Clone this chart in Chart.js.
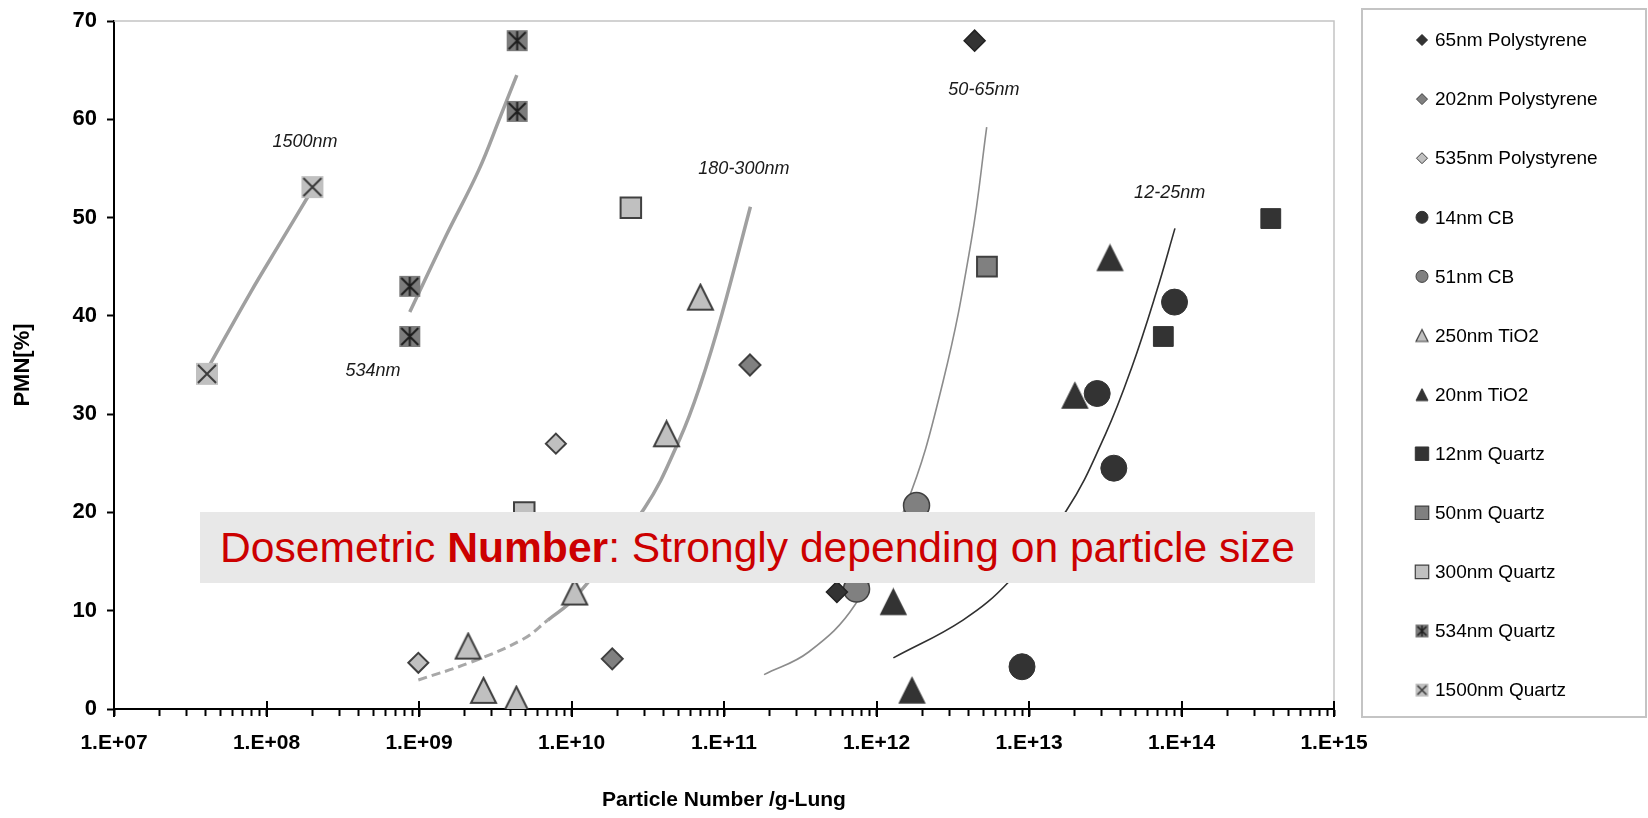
<!DOCTYPE html>
<html>
<head>
<meta charset="utf-8">
<title>PMN vs particle number</title>
<script src="https://cdn.jsdelivr.net/npm/chart.js@4.4.1/dist/chart.umd.min.js"></script>
<style>
  body { margin: 0; background: #fff; }
  #wrap { position: relative; width: 1648px; height: 818px; }
  #note {
    position: absolute; left: 200px; top: 512px; width: 1115px; height: 71px;
    box-sizing: border-box; padding-left: 20px;
    background: #e8e8e8; color: #cc0000;
    font: 42.6px "Liberation Sans", Arial, sans-serif; line-height: 71px;
    white-space: nowrap;
  }
</style>
</head>
<body>
<div id="wrap">
  <canvas id="pmn" width="1648" height="818"></canvas>
  <div id="note">Dosemetric <b>Number</b>: Strongly depending on particle size</div>
</div>
<script>
// ---- data: [particles per g lung, PMN %] ----
const seriesNames = ['65nm Polystyrene', '202nm Polystyrene', '535nm Polystyrene', '14nm CB', '51nm CB',
  '250nm TiO2', '20nm TiO2', '12nm Quartz', '50nm Quartz', '300nm Quartz', '534nm Quartz', '1500nm Quartz'];

const ps65 = [[4.4e12, 68], [5.5e11, 11.9]];
const ps202 = [[1.48e11, 35], [1.85e10, 5.1]];
const ps535 = [[9.9e8, 4.7], [7.9e9, 27]];
const cb14 = [[9.0e13, 41.4], [3.6e13, 24.5], [2.8e13, 32.1], [9.0e12, 4.3]];
const cb51 = [[1.83e12, 20.7], [7.4e11, 12.2]];
const tio250 = [[7.0e10, 41.9], [4.2e10, 28], [1.05e10, 11.9], [2.1e9, 6.4], [2.65e9, 1.9], [4.35e9, 1]];
const tio20 = [[3.4e13, 45.9], [2.0e13, 31.9], [1.29e12, 10.9], [1.71e12, 1.9]];
const qz12 = [[3.85e14, 49.9], [7.6e13, 37.9]];
const qz50 = [[5.3e12, 45]];
const qz300 = [[2.45e10, 51], [4.9e9, 20]];
const qz534 = [[8.7e8, 43], [8.7e8, 37.9], [4.4e9, 68], [4.4e9, 60.8]];
const qz1500 = [[4.07e7, 34.1], [2.0e8, 53.1]];

// trend curves per size class
const fit1500 = [[4.07e7, 34.5], [7.8e7, 42.3], [1.26e8, 47.7], [1.95e8, 52.6]];
const fit534 = [[8.7e8, 40.4], [1.51e9, 48.2], [2.46e9, 54.8], [3.4e9, 60.2], [4.38e9, 64.5]];
const fit180Low = [[9.9e8, 2.95], [2.14e9, 4.7], [4.8e9, 7.1], [7.0e9, 9.05]];
const fit180 = [[7.0e9, 9.05], [1.05e10, 11.3], [3.0e10, 20.4], [5.1e10, 27.4], [7.0e10, 33.0], [9.7e10, 40.2], [1.49e11, 51.1]];
const fit50 = [[1.83e11, 3.5], [3.59e11, 5.8], [7.23e11, 10.6], [1.55e12, 20.6], [2.73e12, 33.3], [4.19e12, 47.7], [5.28e12, 59.2]];
const fit12 = [[1.29e12, 5.2], [3.69e12, 9.05], [7.43e12, 13], [1.76e13, 20.2], [3.18e13, 28], [4.73e13, 34.8], [6.9e13, 42.6], [9.06e13, 48.9]];

const fitLabels = ['1500nm', '534nm', '180-300nm', '50-65nm', '12-25nm'];
const fitLabelX = [1.79e8, 5.0e8, 1.35e11, 5.06e12, 8.36e13];
const fitLabelY = [57.7, 34.4, 54.9, 63.0, 52.5];

const xDecades = [1e7, 1e8, 1e9, 1e10, 1e11, 1e12, 1e13, 1e14, 1e15];
const xTickLabels = ['1.E+07', '1.E+08', '1.E+09', '1.E+10', '1.E+11', '1.E+12', '1.E+13', '1.E+14', '1.E+15'];
const yTicks = [0, 10, 20, 30, 40, 50, 60, 70];

// ---- markers ----
function makeMarker(kind, size, fill, line, lw) {
  const pad = 2;
  const c = document.createElement('canvas');
  c.width = c.height = Math.ceil(size + pad * 2);
  const g = c.getContext('2d');
  const s = size, o = pad;
  g.lineWidth = lw;
  g.strokeStyle = line;
  g.fillStyle = fill;
  if (kind === 'triangle') {
    g.beginPath();
    g.moveTo(o + s / 2, o);
    g.lineTo(o + s, o + s);
    g.lineTo(o, o + s);
    g.closePath();
    g.fill();
    g.stroke();
  } else {
    g.fillRect(o, o, s, s);
    g.beginPath();
    g.moveTo(o + 2, o + 2); g.lineTo(o + s - 2, o + s - 2);
    g.moveTo(o + s - 2, o + 2); g.lineTo(o + 2, o + s - 2);
    if (kind === 'star') { g.moveTo(o + s / 2, o + 1); g.lineTo(o + s / 2, o + s - 1); }
    g.stroke();
  }
  return c;
}

const DARK = '#333333', MID = '#808080', LIGHT = '#c0c0c0', EDGE = '#404040';

const seriesData = [ps65, ps202, ps535, cb14, cb51, tio250, tio20, qz12, qz50, qz300, qz534, qz1500];
const plotMarks = [
  { style: 'rectRot', r: 10.5, fill: DARK, line: '#222', bw: 1.5 },
  { style: 'rectRot', r: 10.5, fill: MID, line: EDGE, bw: 2 },
  { style: 'rectRot', r: 10, fill: LIGHT, line: EDGE, bw: 2 },
  { style: 'circle', r: 13, fill: DARK, line: DARK, bw: 1 },
  { style: 'circle', r: 13, fill: MID, line: EDGE, bw: 1.5 },
  { style: makeMarker('triangle', 25, LIGHT, EDGE, 2), r: 13 },
  { style: makeMarker('triangle', 25, DARK, DARK, 1.5), r: 13 },
  { style: 'rect', r: 14, fill: DARK, line: DARK, bw: 1 },
  { style: 'rect', r: 14, fill: MID, line: EDGE, bw: 2 },
  { style: 'rect', r: 14.5, fill: LIGHT, line: EDGE, bw: 2 },
  { style: makeMarker('star', 21, '#7c7c7c', '#1e1e1e', 2), r: 11 },
  { style: makeMarker('cross', 22, LIGHT, '#3a3a3a', 2), r: 11 }
];
const legendMarks = [
  { style: 'rectRot', r: 5.5, fill: DARK, line: '#222', bw: 1 },
  { style: 'rectRot', r: 5.5, fill: MID, line: EDGE, bw: 1 },
  { style: 'rectRot', r: 5.5, fill: LIGHT, line: EDGE, bw: 1 },
  { style: 'circle', r: 6, fill: DARK, line: DARK, bw: 1 },
  { style: 'circle', r: 6, fill: MID, line: EDGE, bw: 1 },
  { style: makeMarker('triangle', 12, LIGHT, EDGE, 1.2), r: 6 },
  { style: makeMarker('triangle', 12, DARK, DARK, 1), r: 6 },
  { style: 'rect', r: 9.5, fill: DARK, line: DARK, bw: 1 },
  { style: 'rect', r: 9.5, fill: MID, line: EDGE, bw: 1.2 },
  { style: 'rect', r: 9.5, fill: LIGHT, line: EDGE, bw: 1.2 },
  { style: makeMarker('star', 13, '#7c7c7c', '#1e1e1e', 1.6), r: 7 },
  { style: makeMarker('cross', 13, LIGHT, '#3a3a3a', 1.6), r: 7 }
];

const toXY = pts => pts.map(p => ({ x: p[0], y: p[1] }));

const pointSets = seriesData.map((pts, i) => {
  const m = plotMarks[i];
  return {
    label: seriesNames[i],
    data: toXY(pts),
    pointStyle: m.style,
    pointRadius: m.r,
    backgroundColor: m.fill || DARK,
    borderColor: m.line || DARK,
    borderWidth: m.bw || 0,
    order: 0
  };
});

function curve(pts, color, width, dash) {
  return {
    label: '',
    data: toXY(pts),
    showLine: true,
    borderColor: color,
    borderWidth: width,
    borderDash: dash || [],
    pointRadius: 0,
    tension: 0.4,
    order: 1
  };
}

const curveSets = [
  curve(fit1500, '#a0a0a0', 3.5),
  curve(fit534, '#a0a0a0', 3.5),
  curve(fit180Low, '#a8a8a8', 3, [9, 5]),
  curve(fit180, '#a0a0a0', 3.5),
  curve(fit50, '#8c8c8c', 1.6),
  curve(fit12, '#303030', 1.6)
];

// plot border, decade ticks across the axis, curve captions, legend box
const decor = {
  id: 'decor',
  beforeDatasetsDraw(chart) {
    const { ctx, chartArea: a } = chart;
    ctx.save();
    ctx.strokeStyle = '#c4c4c4';
    ctx.lineWidth = 1.5;
    ctx.beginPath();
    ctx.moveTo(a.left, a.top);
    ctx.lineTo(a.right, a.top);
    ctx.lineTo(a.right, a.bottom);
    ctx.stroke();
    ctx.restore();
  },
  afterDatasetsDraw(chart) {
    const { ctx, scales: { x, y } } = chart;
    ctx.save();
    ctx.font = 'italic 18px "Liberation Sans", Arial, sans-serif';
    ctx.fillStyle = '#1a1a1a';
    ctx.textAlign = 'center';
    ctx.textBaseline = 'middle';
    fitLabels.forEach((t, i) => {
      ctx.fillText(t, x.getPixelForValue(fitLabelX[i]), y.getPixelForValue(fitLabelY[i]));
    });
    ctx.restore();
  },
  afterDraw(chart) {
    const { ctx, chartArea: a, scales: { x } } = chart;
    ctx.save();
    ctx.strokeStyle = '#000';
    ctx.lineWidth = 2;
    ctx.beginPath();
    xDecades.forEach(v => {
      const px = Math.round(x.getPixelForValue(v));
      ctx.moveTo(px, a.bottom - 8);
      ctx.lineTo(px, a.bottom + 8);
    });
    ctx.stroke();

    // legend
    ctx.strokeStyle = '#c4c4c4';
    ctx.lineWidth = 2;
    ctx.strokeRect(1362, 9, 284, 708);
    ctx.font = '19px "Liberation Sans", Arial, sans-serif';
    ctx.textBaseline = 'middle';
    ctx.textAlign = 'left';
    seriesNames.forEach((name, i) => {
      const ly = 40 + i * 59.1;
      const m = legendMarks[i];
      ctx.fillStyle = m.fill || DARK;
      ctx.strokeStyle = m.line || DARK;
      ctx.lineWidth = m.bw || 0;
      Chart.helpers.drawPoint(ctx, { pointStyle: m.style, radius: m.r, borderWidth: m.bw || 0, rotation: 0 }, 1422, ly);
      ctx.fillStyle = '#000';
      ctx.fillText(name, 1435, ly + 1);
    });
    ctx.restore();
  }
};

Chart.defaults.font.family = '"Liberation Sans", Arial, sans-serif';
Chart.defaults.color = '#000';

new Chart(document.getElementById('pmn'), {
  type: 'scatter',
  data: { datasets: pointSets.concat(curveSets) },
  options: {
    responsive: false,
    animation: false,
    events: [],
    layout: { padding: { top: 21, right: 314, left: 0, bottom: 0 } },
    plugins: { legend: { display: false }, tooltip: { enabled: false } },
    scales: {
      x: {
        type: 'logarithmic',
        min: xDecades[0],
        max: xDecades[xDecades.length - 1],
        afterBuildTicks(scale) {
          const ticks = [];
          xDecades.forEach((d, i) => {
            const last = i === xDecades.length - 1;
            for (let k = 1; k <= (last ? 1 : 9); k++) ticks.push({ value: d * k });
          });
          scale.ticks = ticks;
        },
        afterFit(scale) {
          scale.height = 109;
          scale.paddingLeft = 0;
          scale.paddingRight = 0;
        },
        ticks: {
          autoSkip: false,
          maxRotation: 0,
          padding: 15,
          font: { size: 21, weight: 'bold' },
          callback(value) {
            const i = xDecades.findIndex(d => Math.abs(d - value) < d * 1e-6);
            return i >= 0 ? xTickLabels[i] : '';
          }
        },
        grid: { drawOnChartArea: false, drawTicks: true, tickLength: 7, tickWidth: 2, tickColor: '#000' },
        border: { display: true, color: '#000', width: 2 },
        title: {
          display: true,
          text: 'Particle Number /g-Lung',
          font: { size: 21, weight: 'bold' },
          padding: { top: 0, bottom: 5 }
        }
      },
      y: {
        min: yTicks[0],
        max: yTicks[yTicks.length - 1],
        afterBuildTicks(scale) {
          scale.ticks = yTicks.map(v => ({ value: v }));
        },
        afterFit(scale) {
          scale.width = 114;
          scale.paddingTop = 0;
          scale.paddingBottom = 0;
        },
        ticks: { padding: 10, font: { size: 22, weight: 'bold' } },
        grid: { drawOnChartArea: false, drawTicks: true, tickLength: 7, tickWidth: 2, tickColor: '#000' },
        border: { display: true, color: '#000', width: 2 },
        title: {
          display: true,
          text: 'PMN[%]',
          font: { size: 22, weight: 'bold' },
          padding: { top: 10, bottom: 0 }
        }
      }
    }
  },
  plugins: [decor]
});
</script>
</body>
</html>
